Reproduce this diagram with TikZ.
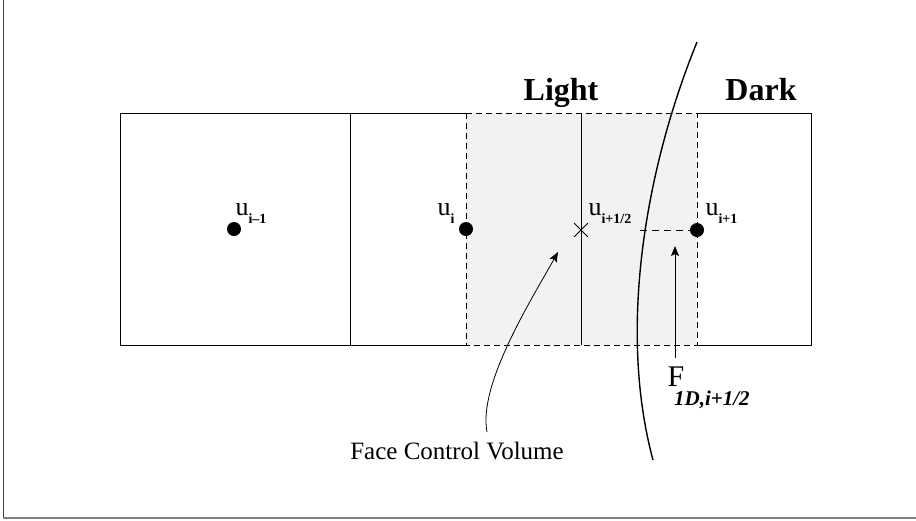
\documentclass[tikz,border=0pt]{standalone}
\usepackage{fontspec}
\setmainfont{Liberation Serif}
\usetikzlibrary{arrows.meta,shapes.misc}
\newcommand{\usub}[2]{u\raisebox{-8pt}{\fontsize{14}{14}\selectfont\bfseries #2}}
\begin{document}
\begin{tikzpicture}[
  x=1pt, y=-1pt,
  line width=1pt,
  cellline/.style={draw, line width=1pt},
  facebox/.style={draw, fill=black!5, line width=0.9pt, dash pattern=on 6pt off 4pt},
  dot/.style={circle, fill=black, inner sep=0pt, minimum size=14pt},
  ulab/.style={inner sep=0pt, anchor=base west, font=\fontsize{26}{26}\selectfont},
  side/.style={inner sep=0pt, anchor=base, font=\fontsize{32}{32}\selectfont\bfseries},
  tip/.style={-{Stealth[length=10pt,width=8pt,inset=2pt]}, line width=1pt}
]
\useasboundingbox (0,0) rectangle (916,520);
% page frame
\draw[black!75, line width=0.8pt] (3,0) -- (3,518);
\draw[black!50, line width=2pt] (3,518) -- (916,518);

% cells
\draw[cellline] (466,113) -- (120,113) -- (120,345) -- (466,345);
\draw[cellline] (697,113) -- (811,113) -- (811,345) -- (697,345);
\draw[cellline] (350,113) -- (350,345);
\draw[facebox] (466,113) rectangle (697,345);
\draw[cellline] (581,113) -- (581,345);

% interface
\draw[line width=1.4pt] (697,42) .. controls (645,170) and (618,330) .. (653,460);
\node[side] (light) at (561,100) {Light};
\node[side] (dark) at (761,100) {Dark};

% cell values
\node[dot] (uim) at (234,229) {};
\node[dot] (ui) at (466,229) {};
\node[dot] (uip) at (697,230) {};
\node[draw, cross out, inner sep=0pt, minimum size=13pt, line width=0.8pt] (uface) at (581,230) {};
\node[ulab] (luim) at (235,215) {\usub{u}{i\textendash1}};
\node[ulab] (lui) at (437,215) {\usub{u}{i}};
\node[ulab] (luface) at (588,215) {\usub{u}{i+1/2}};
\node[ulab] (luip) at (705,215) {\usub{u}{i+1}};

% flux
\coordinate (fluxL) at (640,230);
\draw[dash pattern=on 7pt off 5pt] (fluxL) -- (uip.west);
\coordinate (Ftail) at (675,358);
\coordinate (Fhead) at (675,246);
\draw[tip] (Ftail) -- (Fhead);
\node[inner sep=0pt, anchor=base west, font=\fontsize{30}{30}\selectfont] (F) at (667,386)
  {F\hspace{-10pt}\raisebox{-19pt}{\fontsize{21}{21}\selectfont\bfseries\itshape 1D,i+1/2}};

% face control volume
\node[inner sep=0pt, anchor=base, font=\fontsize{25}{25}\selectfont] (fcv) at (457,459) {Face Control Volume};
\coordinate (fcvtail) at (487,432);
\coordinate (fcvhead) at (558,252);
\draw[tip, line width=0.8pt] (fcvtail) .. controls (478,385) and (530,302) .. (fcvhead);
\end{tikzpicture}
\end{document}
